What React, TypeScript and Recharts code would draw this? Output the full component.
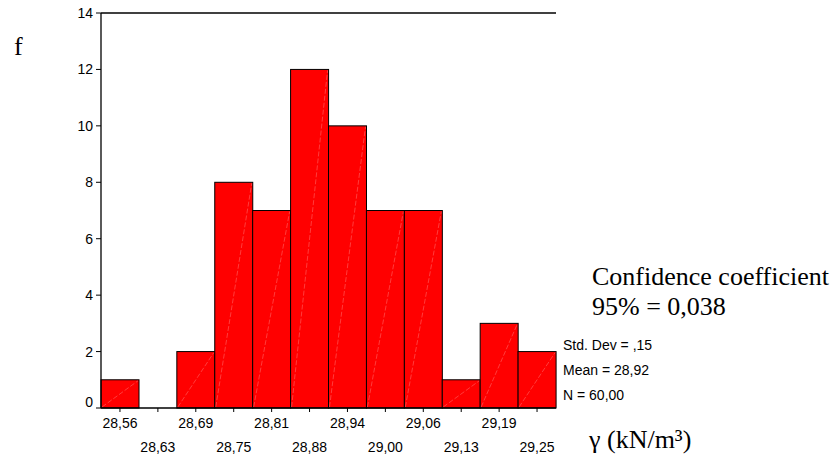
import { Bar, BarChart, ReferenceLine, XAxis, YAxis } from "recharts";

const bins = ["28,56", "28,63", "28,69", "28,75", "28,81", "28,88", "28,94", "29,00", "29,06", "29,13", "29,19", "29,25"];
const counts = [1, 0, 2, 8, 7, 12, 10, 7, 7, 1, 3, 2];
const yTicks = [0, 2, 4, 6, 8, 10, 12, 14];
const stats = ["Std. Dev = ,15", "Mean = 28,92", "N = 60,00"];
const noteLines = ["Confidence coefficient", "95% = 0,038"];

const data = bins.map((bin, i) => ({ bin, count: counts[i] }));

const SANS = "'Liberation Sans', Arial, sans-serif";
const SERIF = "'Liberation Serif', 'Times New Roman', serif";

function HatchBar(props: any) {
  const { x, y, width, height } = props;
  if (!height || height <= 0) return null;
  return (
    <g>
      <rect x={x} y={y} width={width} height={height} fill="#ff0000" stroke="#000" strokeWidth={1} />
      <line
        x1={x + 1}
        y1={y + height - 1}
        x2={x + width - 1}
        y2={y + 1}
        stroke="#ffa8a8"
        strokeOpacity={0.6}
        strokeWidth={0.6}
        strokeDasharray="5 2"
      />
    </g>
  );
}

function XTick(props: any) {
  const { x, y, payload, index } = props;
  return (
    <text x={x} y={y + (index % 2 ? 40 : 16)} textAnchor="middle" fontFamily={SANS} fontSize={14} fill="#000">
      {payload.value}
    </text>
  );
}

function YTick(props: any) {
  const { x, y, payload } = props;
  return (
    <text x={x} y={y + (payload.value === 0 ? -6.5 : 0) + 5} textAnchor="end" fontFamily={SANS} fontSize={14} fill="#000">
      {payload.value}
    </text>
  );
}

export default function App() {
  return (
    <div style={{ position: "absolute", left: 0, top: 0, width: 837, height: 455, background: "#fff" }}>
      <BarChart
        width={837}
        height={455}
        data={data}
        barCategoryGap={0}
        barGap={0}
        margin={{ top: 13, right: 281, left: 0, bottom: 0 }}
      >
        <XAxis
          dataKey="bin"
          interval={0}
          height={47}
          tickSize={4}
          tickMargin={0}
          axisLine={{ stroke: "#000", strokeWidth: 1.3 }}
          tickLine={{ stroke: "#000" }}
          tick={<XTick />}
        />
        <YAxis
          domain={[0, 14]}
          ticks={yTicks}
          width={101}
          tickSize={5}
          tickMargin={3}
          axisLine={{ stroke: "#000", strokeWidth: 1.3 }}
          tickLine={{ stroke: "#000" }}
          tick={<YTick />}
        />
        <YAxis
          yAxisId="right"
          orientation="right"
          domain={[0, 14]}
          width={0}
          tick={false}
          tickLine={false}
          axisLine={{ stroke: "#000", strokeWidth: 1.3 }}
        />
        <ReferenceLine y={14} stroke="#000" strokeWidth={1.3} />
        <Bar dataKey="count" fill="#ff0000" stroke="#000" isAnimationActive={false} shape={<HatchBar />} />
      </BarChart>
      <svg width={837} height={455} style={{ position: "absolute", left: 0, top: 0, pointerEvents: "none" }}>
        <text x={14} y={55} fontFamily={SERIF} fontSize={26} fill="#000">f</text>
        {noteLines.map((t, i) => (
          <text key={t} x={592} y={285 + i * 30} fontFamily={SERIF} fontSize={26} fill="#000">{t}</text>
        ))}
        {stats.map((t, i) => (
          <text key={t} x={563} y={350 + i * 25} fontFamily={SANS} fontSize={14} fill="#000">{t}</text>
        ))}
        <text x={589} y={448} fontFamily={SERIF} fontSize={26} fill="#000">γ (kN/m³)</text>
      </svg>
    </div>
  );
}
